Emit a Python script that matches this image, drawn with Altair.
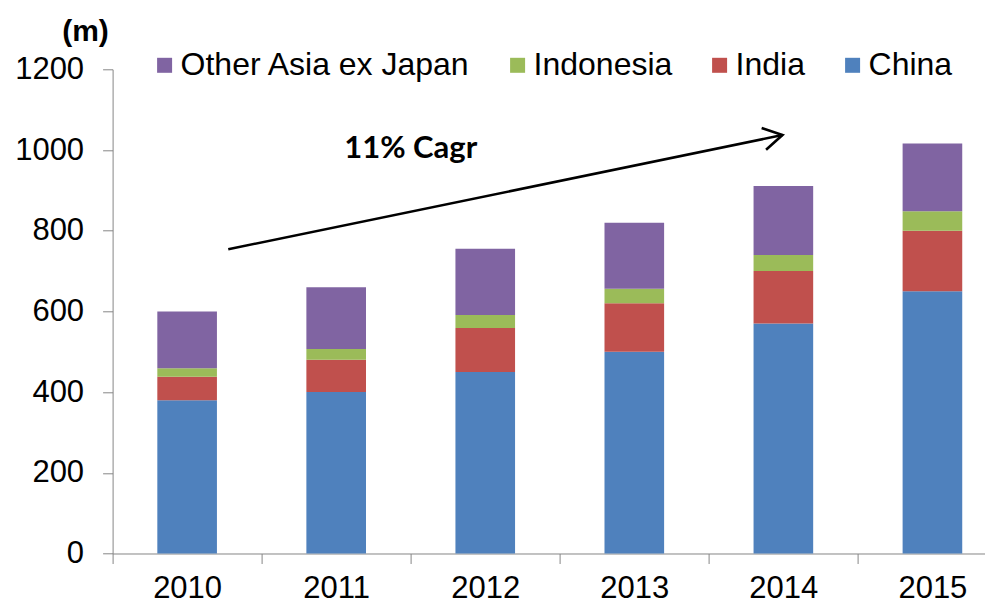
import json
import altair as alt
import pandas as pd

# ---- data ----
years = ["2010", "2011", "2012", "2013", "2014", "2015"]
series = ["China", "India", "Indonesia", "Other Asia ex Japan"]
china = [380, 400, 450, 500, 570, 650]
india = [58, 80, 109, 120, 130, 150]
indonesia = [21, 27, 32, 36, 40, 48]
other = [141, 153, 164, 164, 171, 168]

legend_order = ["Other Asia ex Japan", "Indonesia", "India", "China"]
legend_colors = ["#8064A2", "#9BBB59", "#C0504D", "#4F81BD"]

y_ticks = [0, 200, 400, 600, 800, 1000, 1200]

# annotation (arrow + label), in data units
arrow_x = [0.776, 4.494]
arrow_y = [754, 1037]
cagr_text = ["11% Cagr"]
cagr_x = [2.0]
cagr_y = [1003]

# ---- build tables ----
rows = []
for i, yr in enumerate(years):
    base = 0
    for s, vals in zip(series, [china, india, indonesia, other]):
        v = vals[i]
        rows.append({"idx": i, "year": yr, "series": s, "value": v,
                     "y0": base, "y1": base + v,
                     "xa": i + 0.3, "xb": i + 0.7})
        base += v
df = pd.DataFrame(rows)

arrow_df = pd.DataFrame({"x": arrow_x, "y": arrow_y, "o": [0, 1]})
head_df = pd.DataFrame({"x": [arrow_x[1]], "y": [arrow_y[1]]})
text_df = pd.DataFrame({"x": cagr_x, "y": cagr_y, "t": cagr_text})

FONT = "Liberation Sans"
AXIS_GRAY = "#868686"

x_scale = alt.Scale(domain=[0, 5.85], nice=False, zero=False)
y_scale = alt.Scale(domain=[0, 1200], nice=False)

label_expr = json.dumps(years) + "[datum.value]"

x_axis = alt.Axis(values=list(range(len(years))), labelExpr=label_expr,
                  labelOffset=74.5, labelFlush=False, labelOverlap=False,
                  labelBound=False, grid=False, tickSize=10, labelPadding=10,
                  labelFontSize=31, labelFont=FONT, labelColor="#000000",
                  domainColor=AXIS_GRAY, tickColor=AXIS_GRAY, title=None)

y_axis = alt.Axis(values=y_ticks, format="d", grid=False, tickSize=10,
                  labelPadding=19,
                  labelFontSize=31, labelFont=FONT, labelColor="#000000",
                  domainColor=AXIS_GRAY, tickColor=AXIS_GRAY,
                  title="(m)", titleAngle=0, titleAlign="center",
                  titleBaseline="middle", titleX=-27.6, titleY=-38,
                  titleFont=FONT, titleFontSize=30, titleFontWeight="bold",
                  titleColor="#000000")

bars = alt.Chart(df).mark_bar().encode(
    x=alt.X("xa:Q", scale=x_scale, axis=x_axis),
    x2="xb:Q",
    y=alt.Y("y0:Q", scale=y_scale, axis=y_axis),
    y2="y1:Q",
    color=alt.Color("series:N",
                    scale=alt.Scale(domain=legend_order, range=legend_colors),
                    legend=alt.Legend(orient="none", direction="horizontal",
                                      legendX=36, legendY=-20, title=None,
                                      symbolType="square", symbolSize=225,
                                      symbolStrokeWidth=0, labelOffset=0,
                                      columnPadding=31, padding=0,
                                      labelFont=FONT, labelFontSize=32,
                                      labelColor="#000000", labelLimit=400)),
)

arrow = alt.Chart(arrow_df).mark_line(color="black", strokeWidth=2.6).encode(
    x=alt.X("x:Q", scale=x_scale),
    y=alt.Y("y:Q", scale=y_scale),
    order="o:Q",
)

head = alt.Chart(head_df).mark_point(
    shape="M-1,-0.58L0,0L-1,0.58", filled=False, color="black",
    strokeWidth=2.6, size=1444, angle=348.4, opacity=1,
).encode(
    x=alt.X("x:Q", scale=x_scale),
    y=alt.Y("y:Q", scale=y_scale),
)

label = alt.Chart(text_df).mark_text(
    font="Lato", fontSize=31, fontWeight="bold", color="black",
    align="center", baseline="middle",
).encode(
    x=alt.X("x:Q", scale=x_scale),
    y=alt.Y("y:Q", scale=y_scale),
    text="t:N",
)

chart = alt.layer(bars, arrow, head, label).properties(
    width=872, height=484.2,
    autosize=alt.AutoSizeParams(type="none"),
    padding={"left": 104.6, "top": 61.3, "right": 0, "bottom": 56},
).configure_view(stroke=None)

chart.save("out.html", embed_options={"renderer": "svg", "actions": False})
